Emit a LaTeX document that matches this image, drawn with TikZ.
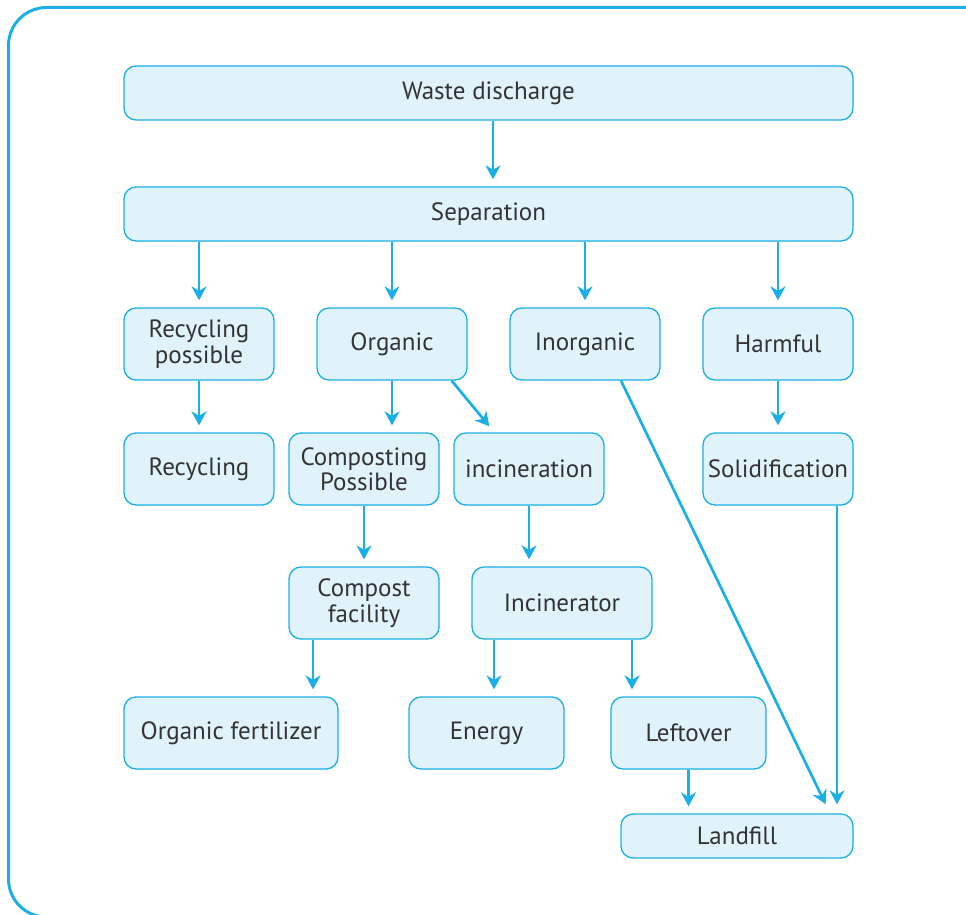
\documentclass[tikz,border=0pt]{standalone}
\usepackage{fontspec}
\setmainfont{PT Sans}
\usetikzlibrary{calc,arrows.meta}
\definecolor{lineblue}{HTML}{1AAFE6}
\definecolor{boxfill}{HTML}{E0F3FA}
\definecolor{textgray}{HTML}{333333}
\tikzset{
  stagebox/.style={draw=lineblue, fill=boxfill, line width=1.3pt, rounded corners=12pt,
    align=center, text=textgray, inner sep=0pt,
    font=\fontsize{25}{25.5}\selectfont},
  flow/.style={draw=lineblue, line width=2.7pt, shorten >=7pt,
    -{Stealth[length=14pt, width=15pt, inset=4.5pt]}},
}
% place a box by its pixel extents: left, top, right, bottom
\newcommand{\stagenode}[6]{%
  \node[stagebox, minimum width={#4-#2}, minimum height={#5-#3}]
    (#1) at ({(#2+#4)/2},{(#3+#5)/2}) {#6};}
\begin{document}
\begin{tikzpicture}[x=1pt,y=-1pt]
  \useasboundingbox (0,0) rectangle (966,915);
  \begin{scope}
    \clip (0,0) rectangle (966,915);
    \draw[lineblue, line width=3pt, rounded corners=38pt]
      (8.5,7.5) rectangle (1010,917);
  \end{scope}

  \stagenode{waste}{124}{66}{853}{120}{Waste discharge}
  \stagenode{sep}{124}{187}{853}{241}{Separation}
  \stagenode{recpos}{124}{308}{274}{380}{Recycling\\possible}
  \stagenode{org}{317}{308}{467}{380}{Organic}
  \stagenode{inorg}{510}{308}{660}{380}{Inorganic}
  \stagenode{harm}{703}{308}{853}{380}{Harmful}
  \stagenode{rec}{124}{433}{274}{505}{Recycling}
  \stagenode{comppos}{289}{433}{439}{505}{Composting\\Possible}
  \stagenode{incin}{454}{433}{604}{505}{incineration}
  \stagenode{solid}{703}{433}{853}{505}{Solidification}
  \stagenode{compfac}{289}{567}{439}{639}{Compost\\facility}
  \stagenode{incr}{472}{567}{652}{639}{Incinerator}
  \stagenode{fert}{124}{697}{338}{769}{Organic fertilizer}
  \stagenode{energy}{409}{697}{564}{769}{Energy}
  \stagenode{left}{611}{697}{766}{769}{Leftover}
  \stagenode{land}{621}{814}{853}{858}{Landfill}

  \draw[flow] ($(waste.south)+(4.5,0)$) -- ($(sep.north)+(4.5,0)$);
  \draw[flow] (sep.south -| recpos) -- (recpos);
  \draw[flow] (sep.south -| org) -- (org);
  \draw[flow] (sep.south -| inorg) -- (inorg);
  \draw[flow] (sep.south -| harm) -- (harm);
  \draw[flow] (recpos) -- (rec);
  \draw[flow] (org) -- (comppos.north -| org);
  \draw[flow, shorten >=0pt] ($(org.south east)+(-16,0)$) -- ($(incin.north west)+(36,-6)$);
  \draw[flow] (comppos) -- (compfac.north -| comppos);
  \draw[flow] (incin) -- (incr.north -| incin);
  \draw[flow] ($(compfac.south)+(-51,0)$) -- ($(fert.north)+(82,0)$);
  \draw[flow] ($(incr.south)+(-68,0)$) -- ($(energy.north)+(7.5,0)$);
  \draw[flow] ($(incr.south)+(70,0)$) -- ($(left.north)+(-56.5,0)$);
  \draw[flow] (left.south) -- (left.south |- land.north);
  \draw[flow] (harm) -- (solid);
  \draw[flow, shorten >=0pt] ($(inorg.south)+(36,0)$) -- ($(land.north east)+(-28,-9)$);
  \draw[flow, shorten >=9pt] ($(solid.south)+(59,0)$) -- ($(land.north)+(100,0)$);
\end{tikzpicture}
\end{document}
